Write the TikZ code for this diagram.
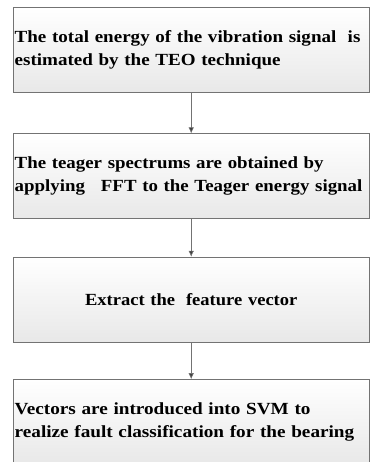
\documentclass[tikz,border=0pt]{standalone}
\usepackage{fontspec}
\setmainfont{Liberation Serif}
\usetikzlibrary{arrows.meta,positioning}

\tikzset{
  stepbox/.style={draw=black!55, shading=axis, top color=white, bottom color=black!9,
    minimum width=356bp, minimum height=85bp, text width=353bp, inner xsep=1.5bp, inner ysep=0pt,
    font=\fontsize{17bp}{22.5bp}\selectfont\bfseries\addfontfeature{FakeStretch=#1}, align=left},
  stepbox/.default=1,
  flow/.style={draw=black!55, line width=0.6bp, -{Latex[length=6bp,width=5.5bp,fill=black!75]}}
}

\begin{document}
\begin{tikzpicture}[x=1bp,y=1bp]
  \useasboundingbox (0,0) rectangle (370,-462);
  %% steps
  \node[stepbox=1.12, anchor=north west] (energy) at (13,-7)
    {The total energy of the vibration signal~ is\\estimated by the TEO technique};
  \node[stepbox=1.11, below=41bp of energy] (spectrum)
    {The teager spectrums are obtained by\\applying\hspace{16bp}FFT to the Teager energy signal};
  \node[stepbox=1.09, below=38bp of spectrum, align=center] (feature)
    {Extract the\hspace{11bp}feature vector};
  \node[stepbox=1.13, below=37bp of feature] (svm)
    {Vectors are introduced into SVM to\\realize fault classification for the bearing};
  %% arrows
  \draw[flow] (energy) -- (spectrum);
  \draw[flow] (spectrum) -- (feature);
  \draw[flow] (feature) -- (svm);
\end{tikzpicture}
\end{document}
